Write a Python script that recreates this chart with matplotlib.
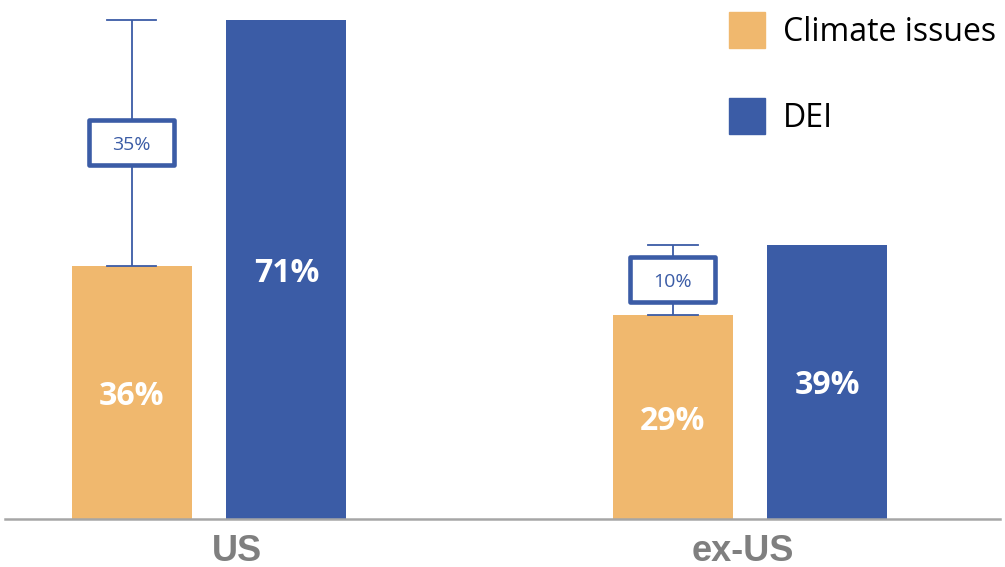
import numpy as np
import matplotlib.pyplot as plt
from matplotlib.patches import Patch, Rectangle

regions = ['US', 'ex-US']
climate = [36, 29]
dei = [71, 39]
gap_labels = ['35%', '10%']

orange = '#F0B86E'
blue = '#3B5CA6'
grey = '#7F7F7F'

fig = plt.figure(figsize=(10.05, 5.67), dpi=100)
ax = fig.add_axes([5/1005, 48/567, 995/1005, 519/567])

x = np.arange(len(regions))
w = 0.222
off = 0.143

ax.bar(x - off, climate, w, color=orange)
ax.bar(x + off, dei, w, color=blue)

for xi, c, d in zip(x, climate, dei):
    ax.text(xi - off, c / 2, f'{c}%', ha='center', va='center_baseline', color='white',
            fontsize=23, fontweight='bold', family='Open Sans')
    ax.text(xi + off, d / 2, f'{d}%', ha='center', va='center_baseline', color='white',
            fontsize=23, fontweight='bold', family='Open Sans')

# gap bracket from climate bar up to DEI level, with labelled box in the middle
cap = 0.046
for xi, c, d, lab in zip(x, climate, dei, gap_labels):
    cx = xi - off
    ax.plot([cx, cx], [c, d], color=blue, lw=1.3, solid_capstyle='butt')
    ax.plot([cx - cap, cx + cap], [c, c], color=blue, lw=1.3)
    ax.plot([cx - cap, cx + cap], [d, d], color=blue, lw=1.3)
    mid = (c + d) / 2
    bw, bh = 0.158, 6.4
    ax.add_patch(Rectangle((cx - bw/2, mid - bh/2), bw, bh, facecolor='white',
                           edgecolor=blue, lw=3.3, joinstyle='round', zorder=3))
    ax.text(cx, mid, lab, ha='center', va='center_baseline', color=blue, fontsize=14,
            family='Open Sans', zorder=4)

label_shift = [0.052, -0.013]
for xi, s, lab in zip(x, label_shift, regions):
    ax.text(xi + s, -(561 - 519) / 519, lab, transform=ax.get_xaxis_transform(),
            ha='center', va='baseline', fontsize=26, fontweight='bold',
            color=grey, family='Liberation Sans')

ax.set_xlim(-0.377, 1.462)
ax.set_ylim(0, 519 / 7.03)
for s in ['top', 'right', 'left']:
    ax.spines[s].set_visible(False)
ax.spines['bottom'].set_color('#A6A6A6')
ax.spines['bottom'].set_linewidth(1.8)
ax.set_xticks([])
ax.set_yticks([])

handles = [Patch(color=orange, label='Climate issues'), Patch(color=blue, label='DEI')]
fig.legend(handles=handles, loc='upper left', bbox_to_anchor=(729/1005, 1 - 12/567),
           frameon=False, borderpad=0, borderaxespad=0, handlelength=1.125,
           handleheight=1.35, handletextpad=0.56, labelspacing=1.55,
           prop={'family': 'Open Sans', 'size': 23})

fig.savefig('out.png', dpi=100)
